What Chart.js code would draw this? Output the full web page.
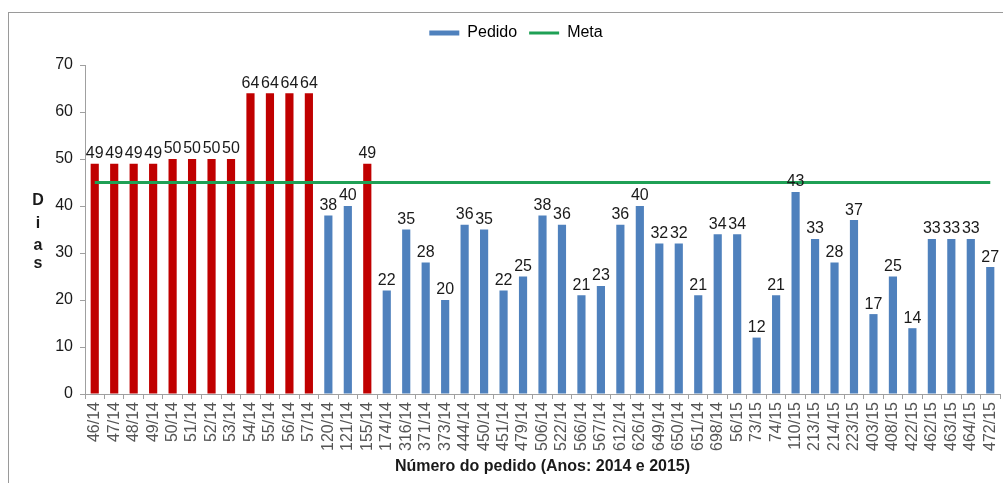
<!DOCTYPE html>
<html>
<head>
<meta charset="utf-8">
<title>Pedidos - dias</title>
<script src="https://cdn.jsdelivr.net/npm/chart.js@4/dist/chart.umd.min.js"></script>
<style>
  html, body { margin: 0; padding: 0; background: #fff; }
  #wrap { position: relative; width: 1003px; height: 483px; overflow: hidden; }
  #frame {
    position: absolute; left: 8px; top: 12px; width: 1100px; height: 600px;
    border-left: 1px solid #9a9a9a; border-top: 1px solid #9a9a9a;
  }
  #myChart { position: absolute; left: 0; top: 0; }
</style>
</head>
<body>
<div id="wrap">
  <div id="frame"></div>
  <canvas id="myChart" width="1003" height="483"></canvas>
</div>
<script>
// order numbers (number/year)
const orders = [
  "46/14", "47/14", "48/14", "49/14", "50/14", "51/14", "52/14", "53/14",
  "54/14", "55/14", "56/14", "57/14", "120/14", "121/14", "155/14", "174/14",
  "316/14", "371/14", "373/14", "444/14", "450/14", "451/14", "479/14", "506/14",
  "522/14", "566/14", "567/14", "612/14", "626/14", "649/14", "650/14", "651/14",
  "698/14", "56/15", "73/15", "74/15", "110/15", "213/15", "214/15", "223/15",
  "403/15", "408/15", "422/15", "462/15", "463/15", "464/15", "472/15"
];

// days per order
const days = [
  49, 49, 49, 49, 50, 50, 50, 50,
  64, 64, 64, 64, 38, 40, 49, 22,
  35, 28, 20, 36, 35, 22, 25, 38,
  36, 21, 23, 36, 40, 32, 32, 21,
  34, 34, 12, 21, 43, 33, 28, 37,
  17, 25, 14, 33, 33, 33, 27
];

// orders above the target
const lateOrders = [
  "46/14", "47/14", "48/14", "49/14", "50/14", "51/14", "52/14", "53/14",
  "54/14", "55/14", "56/14", "57/14", "155/14"
];

const target = 45;
const yTicks = [0, 10, 20, 30, 40, 50, 60, 70];

const BLUE = "#4F81BD";
const RED = "#C00000";
const GREEN = "#1FA055";
const FONT = "'Liberation Sans', Arial, sans-serif";

// value labels over each bar
const barLabels = {
  id: "barLabels",
  afterDatasetsDraw(chart) {
    const ctx = chart.ctx;
    const meta = chart.getDatasetMeta(0);
    ctx.save();
    ctx.font = "16px " + FONT;
    ctx.fillStyle = "#1a1a1a";
    ctx.textAlign = "center";
    ctx.textBaseline = "bottom";
    meta.data.forEach((bar, i) => {
      ctx.fillText(days[i], bar.x, bar.y - 2);
    });
    ctx.restore();
  }
};

// stacked "Dias" title beside the y axis
const stackedTitle = {
  id: "stackedTitle",
  afterDraw(chart) {
    const ctx = chart.ctx;
    ctx.save();
    ctx.font = "bold 16px " + FONT;
    ctx.fillStyle = "#1a1a1a";
    ctx.textAlign = "center";
    ctx.textBaseline = "alphabetic";
    const ys = [205, 228, 250, 268];
    "Dias".split("").forEach((ch, i) => ctx.fillText(ch, 38, ys[i]));
    ctx.restore();
  }
};

// extra room under the legend, and move it a bit to the right
const legendGap = {
  id: "legendGap",
  beforeInit(chart) {
    const fit = chart.legend.fit;
    chart.legend.fit = function () {
      fit.bind(chart.legend)();
      this.height += 14;
    };
  },
  afterLayout(chart) {
    chart.legend.left += 16;
    chart.legend.right += 16;
  }
};

const chartTarget = document.querySelector("#myChart");

new Chart(chartTarget, {
  type: "bar",
  data: {
    labels: orders,
    datasets: [
      {
        label: "Pedido",
        data: days,
        order: 1,
        backgroundColor: (c) =>
          c.dataIndex !== undefined && lateOrders.includes(orders[c.dataIndex]) ? RED : BLUE,
        borderWidth: 0,
        barPercentage: 0.42,
        categoryPercentage: 1
      },
      {
        type: "line",
        label: "Meta",
        data: orders.map(() => target),
        order: 0,
        borderColor: GREEN,
        backgroundColor: GREEN,
        borderWidth: 3,
        pointRadius: 0,
        fill: false
      }
    ]
  },
  plugins: [barLabels, stackedTitle, legendGap],
  options: {
    responsive: false,
    animation: false,
    layout: { padding: { top: 13, right: 3, left: 0, bottom: 0 } },
    plugins: {
      tooltip: { enabled: false },
      legend: {
        position: "top",
        labels: {
          font: { family: FONT, size: 16 },
          color: "#1a1a1a",
          usePointStyle: true,
          pointStyleWidth: 30,
          boxHeight: 5,
          padding: 12,
          generateLabels: () => [
            { text: "Pedido", fillStyle: BLUE, strokeStyle: BLUE, lineWidth: 0, pointStyle: "rect", datasetIndex: 0, hidden: false },
            { text: "Meta", fillStyle: GREEN, strokeStyle: GREEN, lineWidth: 3, pointStyle: "line", datasetIndex: 1, hidden: false }
          ]
        }
      }
    },
    scales: {
      x: {
        grid: { display: true, drawOnChartArea: false, offset: true, tickLength: 5, color: "#a0a0a0" },
        border: { color: "#a0a0a0" },
        ticks: {
          autoSkip: false,
          minRotation: 90,
          maxRotation: 90,
          padding: 3,
          color: "#555",
          font: { family: FONT, size: 16 }
        },
        title: {
          display: true,
          text: "Número do pedido (Anos: 2014 e 2015)",
          color: "#1a1a1a",
          font: { family: FONT, size: 16, weight: "bold" },
          padding: { top: 2, bottom: 7 }
        },
        afterFit: (scale) => {
          scale.height = 89;
          scale.paddingRight = 0;
        }
      },
      y: {
        min: 0,
        max: 70,
        afterBuildTicks: (scale) => { scale.ticks = yTicks.map((v) => ({ value: v })); },
        grid: { display: true, drawOnChartArea: false, tickLength: 5, color: "#a0a0a0" },
        border: { color: "#a0a0a0" },
        ticks: {
          padding: 7,
          color: "#1a1a1a",
          font: { family: FONT, size: 16 }
        },
        afterFit: (scale) => { scale.width = 85; }
      }
    }
  }
});
</script>
</body>
</html>
